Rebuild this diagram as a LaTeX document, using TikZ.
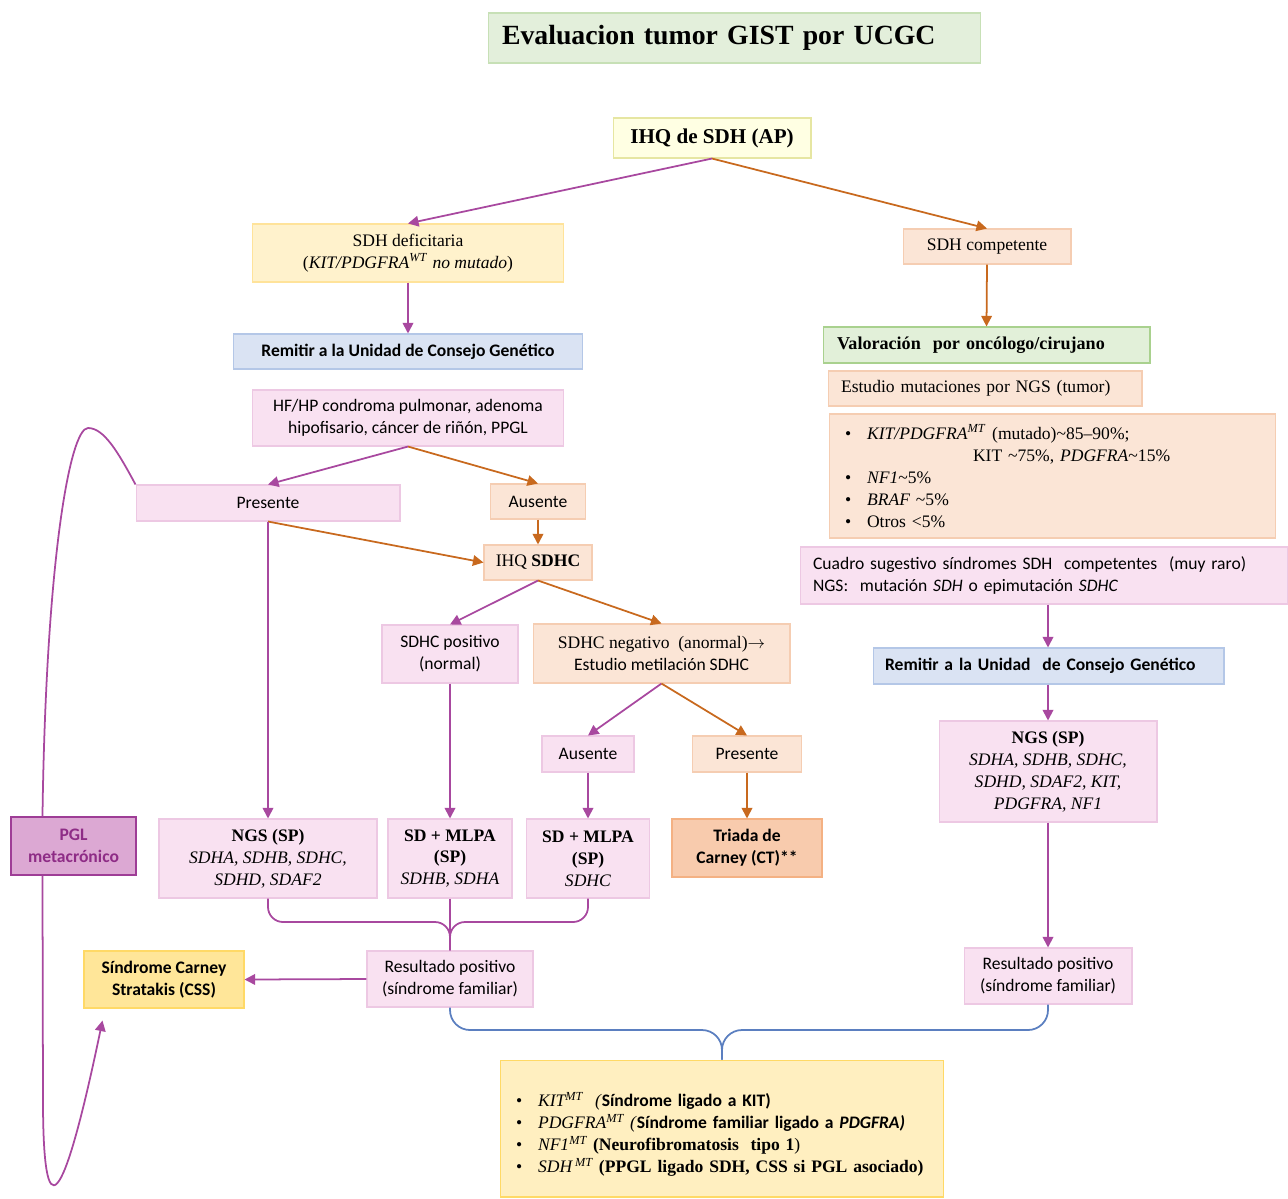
\documentclass[tikz,border=0pt]{standalone}
\usepackage{fontspec}
\setmainfont{Liberation Serif}
\setsansfont{Carlito}
\usetikzlibrary{arrows.meta}

\definecolor{pinkfill}{HTML}{F9E1F1}
\definecolor{pinkline}{HTML}{EDC8E3}
\definecolor{peachfill}{HTML}{FBE5D6}
\definecolor{peachline}{HTML}{F5CDB2}
\definecolor{yelfill}{HTML}{FFF2CC}
\definecolor{yelline}{HTML}{FFE39A}
\definecolor{bluefill}{HTML}{DAE3F3}
\definecolor{blueline}{HTML}{B4C7E7}
\definecolor{grnfill}{HTML}{E2F0D9}
\definecolor{grnline}{HTML}{A9D18E}
\definecolor{ttlfill}{HTML}{E3EFDB}
\definecolor{ttlline}{HTML}{C7E0B6}
\definecolor{ihqfill}{HTML}{FFFFE3}
\definecolor{ihqline}{HTML}{E6E6A2}
\definecolor{ctfill}{HTML}{F8CBAD}
\definecolor{ctline}{HTML}{F4B183}
\definecolor{pglfill}{HTML}{DCA8D3}
\definecolor{pglline}{HTML}{9E3D96}
\definecolor{pgltext}{HTML}{8E2C86}
\definecolor{cssfill}{HTML}{FFE699}
\definecolor{cssline}{HTML}{FFD966}
\definecolor{botfill}{HTML}{FFEFC0}
\definecolor{arrpurple}{HTML}{A8489F}
\definecolor{arrorange}{HTML}{C8691E}
\definecolor{arrblue}{HTML}{5B7FC0}

\tikzset{
  box/.style={draw, line width=0.6pt, align=center, inner sep=2pt,
    font=\fontsize{10}{12.5}\selectfont},
  sans/.style={font=\fontsize{10}{12.5}\selectfont\sffamily},
  pinkbox/.style={box, fill=pinkfill, draw=pinkline},
  peachbox/.style={box, fill=peachfill, draw=peachline},
  yelbox/.style={box, fill=yelfill, draw=yelline},
  bluebox/.style={box, fill=bluefill, draw=blueline, sans},
  grnbox/.style={box, fill=grnfill, draw=grnline},
  pline/.style={draw=arrpurple, line width=1pt},
  oline/.style={draw=arrorange, line width=1pt},
  parrow/.style={pline, ->},
  oarrow/.style={oline, ->},
  bline/.style={draw=arrblue, line width=1pt}
}

\begin{document}
\begin{tikzpicture}[x=0.02cm, y=-0.02cm, >={Triangle[length=6pt,width=6pt]}]
  \useasboundingbox (0,0) rectangle (1288,1198);

  % title and first test
  \node[box, fill=ttlfill, draw=ttlline, align=left, text width=9.3cm, inner xsep=0.28cm,
    minimum height=1cm, font=\fontsize{15.8}{18}\selectfont\bfseries] (title) at (734.5,38)
    {Evaluacion tumor GIST por UCGC};
  \node[box, fill=ihqfill, draw=ihqline, minimum width=3.96cm, minimum height=0.8cm,
    font=\fontsize{12}{14}\selectfont\bfseries] (ihq) at (712,138) {IHQ de SDH (AP)};

  % left branch
  \node[yelbox, minimum width=6.22cm, minimum height=1.16cm] (sdhdef) at (408,253)
    {SDH deficitaria\\(\textit{KIT/PDGFRA}\textsuperscript{\textit{WT}} \textit{no mutado})};
  \node[bluebox, minimum width=6.98cm, minimum height=0.7cm, font=\fontsize{10}{12.5}\selectfont\sffamily\bfseries]
    (remitl) at (408,351.5) {Remitir a la Unidad de Consejo Genético};
  \node[pinkbox, sans, minimum width=6.22cm, minimum height=1.12cm] (hfhp) at (408,418)
    {HF/HP condroma pulmonar, adenoma\\hipofisario, cáncer de riñón, PPGL};
  \node[pinkbox, sans, minimum width=5.28cm, minimum height=0.72cm] (presl) at (268,503) {Presente};
  \node[peachbox, sans, minimum width=1.9cm, minimum height=0.7cm] (ausa) at (538,501.5) {Ausente};
  \node[peachbox, minimum width=2.16cm, minimum height=0.7cm] (ihqc) at (538,562.5) {IHQ \textbf{SDHC}};
  \node[pinkbox, sans, minimum width=2.72cm, minimum height=1.16cm] (sdhcpos) at (450,654)
    {SDHC positivo\\(normal)};
  \node[peachbox, minimum width=5.14cm, minimum height=1.18cm] (sdhcneg) at (661.5,653.5)
    {SDHC negativo\ \ (anormal)$\rightarrow$\\\textsf{Estudio metilación SDHC}};
  \node[pinkbox, sans, minimum width=1.84cm, minimum height=0.72cm] (ausb) at (588,754) {Ausente};
  \node[peachbox, sans, minimum width=2.18cm, minimum height=0.72cm] (presb) at (747,754) {Presente};
  \node[box, fill=ctfill, draw=ctline, minimum width=3cm, minimum height=1.16cm,
    font=\fontsize{10}{12.5}\selectfont\sffamily\bfseries] (triada) at (747,848) {Triada de\\Carney (CT)**};
  \node[pinkbox, minimum width=4.36cm, minimum height=1.58cm] (ngsl) at (268,858.5)
    {\textbf{NGS (SP)}\\\textit{SDHA, SDHB, SDHC,}\\\textit{SDHD, SDAF2}};
  \node[pinkbox, minimum width=2.48cm, minimum height=1.58cm] (mlpaa) at (450,858.5)
    {\textbf{SD + MLPA}\\\textbf{(SP)}\\\textit{SDHB, SDHA}};
  \node[pinkbox, minimum width=2.46cm, minimum height=1.58cm] (mlpab) at (588,858.5)
    {\textbf{SD + MLPA}\\\textbf{(SP)}\\\textit{SDHC}};
  \node[box, fill=pglfill, draw=pglline, text=pgltext, minimum width=2.5cm, minimum height=1.16cm,
    font=\fontsize{10}{12.5}\selectfont\sffamily\bfseries] (pgl) at (73.5,846) {PGL\\metacrónico};
  \node[pinkbox, sans, minimum width=3.32cm, minimum height=1.12cm] (resl) at (450,979)
    {Resultado positivo\\(síndrome familiar)};
  \node[box, fill=cssfill, draw=cssline, minimum width=3.2cm, minimum height=1.14cm,
    font=\fontsize{10}{12.5}\selectfont\sffamily\bfseries] (css) at (164,979.5)
    {Síndrome Carney\\Stratakis (CSS)};

  % right branch
  \node[peachbox, minimum width=3.36cm, minimum height=0.7cm] (sdhcomp) at (987,246.5) {SDH competente};
  \node[grnbox, align=left, text width=5.98cm, inner xsep=0.28cm, minimum height=0.72cm,
    font=\fontsize{10.3}{12.5}\selectfont\bfseries] (valor) at (986.5,345) {Valoración\ \ por oncólogo/cirujano};
  \node[peachbox, align=left, text width=5.76cm, inner xsep=0.26cm, minimum height=0.7cm]
    (estngs) at (985,388.5) {Estudio mutaciones\ por NGS (tumor)};
  \node[peachbox, align=left, text width=8.3cm, inner xsep=0.32cm, minimum height=2.48cm]
    (muts) at (1052.5,476) {%
    \makebox[0.44cm][l]{\textbullet}\textit{KIT/PDGFRA}\textsuperscript{\textit{MT}} (mutado)\textasciitilde 85--90\%;\\
    \hspace*{2.56cm}KIT \textasciitilde 75\%, \textit{PDGFRA}\textasciitilde 15\%\\
    \makebox[0.44cm][l]{\textbullet}\textit{NF1}\textasciitilde 5\%\\
    \makebox[0.44cm][l]{\textbullet}\textit{BRAF} \textasciitilde 5\%\\
    \makebox[0.44cm][l]{\textbullet}Otros <5\%};
  \node[pinkbox, sans, align=left, text width=9.24cm, inner xsep=0.26cm, minimum height=1.14cm]
    (cuadro) at (1044,575.5) {Cuadro sugestivo síndromes SDH\ \ competentes\ \ (muy raro)\\
    NGS:\ \ mutación \textit{SDH} o epimutación \textit{SDHC}};
  \node[bluebox, align=left, text width=6.54cm, inner xsep=0.24cm, minimum height=0.72cm,
    font=\fontsize{10}{12.5}\selectfont\sffamily\bfseries] (remitr) at (1048.5,666)
    {Remitir a la Unidad\ \ de Consejo Genético};
  \node[pinkbox, minimum width=4.36cm, minimum height=2.02cm] (ngsr) at (1048,771.5)
    {\textbf{NGS (SP)}\\\textit{SDHA, SDHB, SDHC,}\\\textit{SDHD, SDAF2, KIT,}\\\textit{PDGFRA, NF1}};
  \node[pinkbox, sans, minimum width=3.36cm, minimum height=1.12cm] (resr) at (1048,976)
    {Resultado positivo\\(síndrome familiar)};

  % bottom box
  \node[box, fill=botfill, draw=cssline, align=left, text width=8.24cm, inner xsep=0.32cm,
    minimum height=2.74cm] (final) at (722,1128.5) {%
    \rule{0pt}{15pt}\makebox[0.44cm][l]{\textbullet}\textit{KIT\textsuperscript{MT}\ \ (}\textsf{\bfseries Síndrome ligado\ a KIT)}\\
    \makebox[0.44cm][l]{\textbullet}\textit{PDGFRA\textsuperscript{MT} (}\textsf{\bfseries Síndrome familiar\ ligado a \textit{PDGFRA)}}\\
    \makebox[0.44cm][l]{\textbullet}\textit{NF1\textsuperscript{MT}} \textbf{(Neurofibromatosis\ \ tipo 1})\\
    \makebox[0.44cm][l]{\textbullet}\textit{SDH\,\textsuperscript{MT}} \textbf{(PPGL\ ligado SDH, CSS si PGL asociado)}};

  % connectors
  \draw[parrow] (ihq.south) -- (sdhdef.north);
  \draw[oarrow] (ihq.south) -- (sdhcomp.north);
  \draw[parrow] (sdhdef.south) -- (remitl.north);
  \draw[oarrow] (sdhcomp.south) -- (valor.north);
  \draw[parrow] (hfhp.south) -- (presl.north);
  \draw[oarrow] (hfhp.south) -- (ausa.north);
  \draw[oarrow] (ausa.south) -- (ihqc.north);
  \draw[oarrow] (presl.south) -- (ihqc.west);
  \draw[parrow] (presl.south) -- (ngsl.north);
  \draw[parrow] (ihqc.south) -- (sdhcpos.north);
  \draw[oarrow] (ihqc.south) -- (sdhcneg.north);
  \draw[parrow] (sdhcpos.south) -- (mlpaa.north);
  \draw[parrow] (sdhcneg.south) -- (ausb.north);
  \draw[oarrow] (sdhcneg.south) -- (presb.north);
  \draw[parrow] (ausb.south) -- (mlpab.north);
  \draw[oarrow] (presb.south) -- (triada.north);
  \draw[parrow] (resl.west) -- (css.east);
  \draw[parrow] (cuadro.south -| ngsr.north) -- (remitr.north -| ngsr.north);
  \draw[parrow] (remitr.south -| ngsr.north) -- (ngsr.north);
  \draw[parrow] (ngsr.south) -- (resr.north);

  % brace to resultado
  \draw[pline, rounded corners=0.3cm] (ngsl.south) |- (450,922) -- (resl.north);
  \draw[pline, rounded corners=0.3cm] (mlpab.south) |- (450,922) -- (resl.north);
  \draw[pline] (mlpaa.south) -- (resl.north);
  \draw[bline, rounded corners=0.4cm] (resl.south) |- (722,1030) -- (final.north);
  \draw[bline, rounded corners=0.4cm] (resr.south) |- (722,1030) -- (final.north);

  % PGL loop
  \draw[pline] (presl.north west) .. controls (118,452) and (104,428) .. (88,428)
    .. controls (70,428) and (46,560) .. ([xshift=0.64cm]pgl.north west);
  \draw[parrow] ([xshift=0.64cm]pgl.south west) -- (43,1100)
    .. controls (43,1230) and (62,1215) .. ([xshift=0.38cm,yshift=-0.24cm]css.south west);
\end{tikzpicture}
\end{document}
